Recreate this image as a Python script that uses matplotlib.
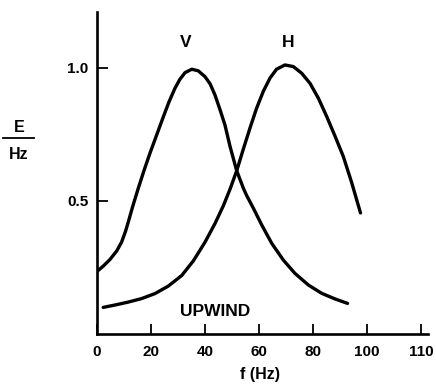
import numpy as np
import matplotlib
matplotlib.use('Agg')
import matplotlib.pyplot as plt
from matplotlib.lines import Line2D

# V curve (vertical component)
v_f = [0, 2.3, 4.8, 7.3, 9.1, 10.6, 11.9, 13.1, 14.3, 15.3, 17.5, 19.6,
       22.1, 24.6, 26.7, 28.9, 30.7, 32.6, 35.1, 37.5, 40.0, 41.9, 43.7,
       45.6, 47.4, 49.3, 51.7, 54.2, 55.4, 57.9, 61.0, 64.7, 69.0, 73.3,
       78.3, 83.2, 88.1, 92.8]
v_e = [0.235, 0.255, 0.280, 0.312, 0.345, 0.387, 0.432, 0.475, 0.515, 0.548,
       0.617, 0.679, 0.748, 0.817, 0.873, 0.924, 0.957, 0.982, 0.995, 0.989,
       0.967, 0.940, 0.898, 0.842, 0.785, 0.704, 0.615, 0.548, 0.521, 0.473,
       0.410, 0.341, 0.278, 0.228, 0.184, 0.153, 0.132, 0.115]

# H curve (horizontal component)
h_f = [2.3, 6.7, 11.6, 16.5, 21.5, 26.4, 31.4, 35.7, 40.0, 43.7, 46.8,
       49.3, 51.7, 54.2, 56.7, 59.1, 61.6, 64.1, 66.5, 69.6, 72.7, 75.8,
       78.9, 82.0, 85.1, 88.1, 91.2, 94.3, 97.6]
h_e = [0.100, 0.109, 0.120, 0.133, 0.152, 0.180, 0.220, 0.275, 0.345, 0.415,
       0.482, 0.545, 0.612, 0.695, 0.775, 0.848, 0.912, 0.962, 0.995, 1.011,
       1.005, 0.980, 0.942, 0.886, 0.817, 0.745, 0.668, 0.570, 0.455]

xtick_pos = [0, 20, 40, 60, 80, 100, 120]
xtick_lab = ['0', '20', '40', '60', '80', '100', '110']
ytick_pos = [0.5, 1.0]
ytick_lab = ['0.5', '1.0']

plt.rcParams['font.family'] = 'Liberation Sans'
plt.rcParams['font.weight'] = 'bold'

fig = plt.figure(figsize=(4.36, 3.84), dpi=100)
ax = fig.add_axes([97/436, 50/384, 331/436, 322/384])

ax.plot(v_f, v_e, color='black', linewidth=2.4, solid_joinstyle='round', solid_capstyle='round')
ax.plot(h_f, h_e, color='black', linewidth=2.4, solid_joinstyle='round', solid_capstyle='round')

ax.set_xlim(0, 122.6)
ax.set_ylim(0, 1.21)

for s in ['top', 'right']:
    ax.spines[s].set_visible(False)
for s in ['left', 'bottom']:
    ax.spines[s].set_linewidth(1.9)

ax.set_xticks(xtick_pos)
ax.set_xticklabels(xtick_lab, fontsize=11, fontweight='bold')
ax.set_yticks(ytick_pos)
ax.set_yticklabels(ytick_lab, fontsize=11, fontweight='bold')
ax.tick_params(axis='x', direction='in', length=7.5, width=1.3, pad=8)
ax.tick_params(axis='y', direction='in', length=8, width=1.3, pad=6)

ax.text(33, 1.094, 'V', fontsize=12.5, fontweight='bold', ha='center', va='center')
ax.text(70.7, 1.094, 'H', fontsize=12.5, fontweight='bold', ha='center', va='center')
ax.text(43.7, 0.086, 'UPWIND', fontsize=12.5, fontweight='bold', ha='center', va='center')

fig.text(260/436, 1 - 375/384, 'f (Hz)', fontsize=11.5, fontweight='bold', ha='center', va='center')

# E / Hz fraction label
fig.text(19/436, 1 - 127/384, 'E', fontsize=11.5, fontweight='bold', ha='center', va='center')
fig.text(19/436, 1 - 154/384, 'Hz', fontsize=11.5, fontweight='bold', ha='center', va='center')
fig.add_artist(Line2D([3/436, 34/436], [1 - 138/384, 1 - 138/384], color='black', linewidth=1.3))

fig.savefig('out.png', dpi=100)
